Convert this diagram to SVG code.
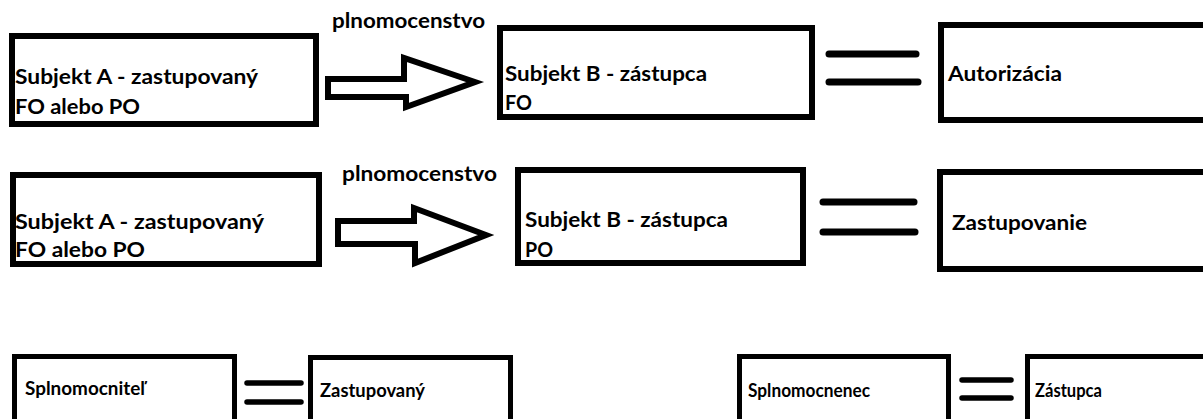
<svg xmlns="http://www.w3.org/2000/svg" width="1203" height="419" viewBox="0 0 1203 419">
<style>
.box{fill:#fff;stroke:#000;stroke-width:6}
.sbox{fill:#fff;stroke:#000;stroke-width:5}
.t{font-family:Lato,"Liberation Sans",sans-serif;font-weight:bold;fill:#000;font-size:21.5px}
.ts{font-family:Lato,"Liberation Sans",sans-serif;font-weight:bold;fill:#000;font-size:18px}
.arrow{fill:#fff;stroke:#000;stroke-width:6;stroke-linejoin:miter}
.eq{stroke:#000;stroke-width:7;stroke-linecap:round}
.eqs{stroke:#000;stroke-width:5.5;stroke-linecap:round}
</style>
<rect width="1203" height="419" fill="#fff"/>
<g id="connectors">
<polygon class="arrow" points="328,79 404,79 404,58 475,82 406,107 406,97 328,97"/>
<polygon class="arrow" points="338,221 414,221 414,208 486,235 415,263 415,244 338,244"/>
<text class="t" x="332" y="28" textLength="153" lengthAdjust="spacingAndGlyphs">plnomocenstvo</text>
<text class="t" x="342" y="181" textLength="155" lengthAdjust="spacingAndGlyphs">plnomocenstvo</text>
<line class="eq" x1="829" y1="54" x2="916" y2="54"/>
<line class="eq" x1="829" y1="82" x2="918" y2="82"/>
<line class="eq" x1="823" y1="202" x2="914" y2="202"/>
<line class="eq" x1="823" y1="232" x2="915" y2="232"/>
<line class="eqs" x1="247" y1="383" x2="301" y2="383"/>
<line class="eqs" x1="247" y1="402" x2="301" y2="402"/>
<line class="eqs" x1="962" y1="380" x2="1011" y2="380"/>
<line class="eqs" x1="962" y1="398" x2="1011" y2="398"/>
</g>
<g id="subjektA1">
<rect class="box" x="12" y="36" width="304" height="88"/>
<text class="t" x="15" y="84" textLength="243" lengthAdjust="spacingAndGlyphs">Subjekt A - zastupovaný</text>
<text class="t" x="15" y="114" textLength="125" lengthAdjust="spacingAndGlyphs">FO alebo PO</text>
</g>
<g id="subjektB1">
<rect class="box" x="500" y="28" width="312" height="89"/>
<text class="t" x="505" y="81" textLength="202" lengthAdjust="spacingAndGlyphs">Subjekt B - zástupca</text>
<text class="t" x="505" y="110" textLength="27" lengthAdjust="spacingAndGlyphs">FO</text>
</g>
<g id="autorizacia">
<rect class="box" x="941" y="25" width="280" height="95"/>
<text class="t" x="948" y="81" textLength="114" lengthAdjust="spacingAndGlyphs">Autorizácia</text>
</g>
<g id="subjektA2">
<rect class="box" x="13" y="175" width="306" height="89"/>
<text class="t" x="15" y="229" textLength="249" lengthAdjust="spacingAndGlyphs">Subjekt A - zastupovaný</text>
<text class="t" x="15" y="257" textLength="130" lengthAdjust="spacingAndGlyphs">FO alebo PO</text>
</g>
<g id="subjektB2">
<rect class="box" x="518" y="170" width="285" height="93"/>
<text class="t" x="525" y="227" textLength="203" lengthAdjust="spacingAndGlyphs">Subjekt B - zástupca</text>
<text class="t" x="525" y="257" textLength="28" lengthAdjust="spacingAndGlyphs">PO</text>
</g>
<g id="zastupovanie">
<rect class="box" x="940" y="172" width="280" height="97"/>
<text class="t" x="952" y="230" textLength="135" lengthAdjust="spacingAndGlyphs">Zastupovanie</text>
</g>
<g id="splnomocnitel">
<rect class="sbox" x="14.5" y="356.5" width="220" height="80"/>
<text class="ts" x="25" y="395" textLength="120" lengthAdjust="spacingAndGlyphs">Splnomocniteľ</text>
</g>
<g id="zastupovany">
<rect class="sbox" x="310.5" y="357.5" width="200" height="80"/>
<text class="ts" x="320" y="397" textLength="105" lengthAdjust="spacingAndGlyphs">Zastupovaný</text>
</g>
<g id="splnomocnenec">
<rect class="sbox" x="739.5" y="356.5" width="209" height="80"/>
<text class="ts" x="748" y="397" textLength="122" lengthAdjust="spacingAndGlyphs">Splnomocnenec</text>
</g>
<g id="zastupca">
<rect class="sbox" x="1027.5" y="356.5" width="200" height="80"/>
<text class="ts" x="1035" y="397" textLength="67" lengthAdjust="spacingAndGlyphs">Zástupca</text>
</g>
</svg>
